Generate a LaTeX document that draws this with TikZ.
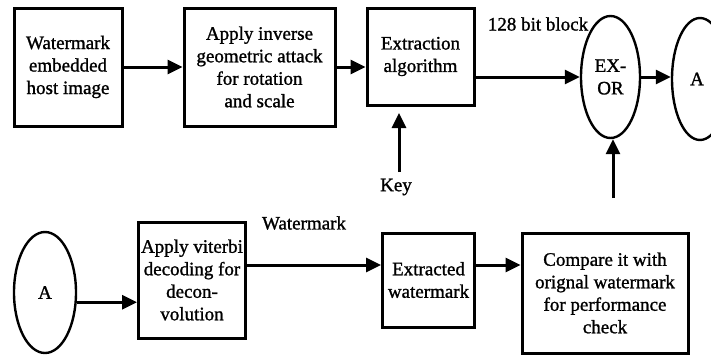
\documentclass[tikz,border=0pt]{standalone}
\usepackage{fontspec}
\setmainfont{Liberation Serif}[FakeBold=1.2]
\usetikzlibrary{arrows.meta,shapes.geometric}

\begin{document}
\begin{tikzpicture}[x=1pt,y=-1pt,
  every node/.style={font=\fontsize{19}{22.5}\selectfont, align=center, inner sep=0pt},
  block/.style={draw, line width=3pt, minimum width=#1},
  oval/.style={draw, ellipse, line width=2.4pt},
  arr/.style={line width=3pt, -{Triangle[length=15pt,width=14pt]}},
  lbl/.style={}]
\useasboundingbox (0,0) rectangle (711,354);
\clip (0,0) rectangle (711,354);

% top row
\node[block=108pt, minimum height=118pt] (host) at (68,67)
  {Watermark\\embedded\\host image};
\node[block=151pt, minimum height=118pt] (inv) at (259.5,67)
  {Apply inverse\\geometric attack\\for rotation\\and scale};
\node[block=107pt, minimum height=97pt] (extr) at (420.5,56.5)
  {Extraction\\algorithm};
\node[oval, minimum width=59pt, minimum height=122pt] (exor) at (610.5,77)
  {EX-\\OR};
\node[oval, minimum width=56pt, minimum height=122pt] (atop) at (700,79) {};
\node at (697,79) {A};

\node[lbl] (blk) at (538,24) {128 bit block};
\node[lbl] (key) at (396,187) {Key};
\coordinate (keytip) at (399,113);
\coordinate (cmpout) at (613,198);

% bottom row
\node[oval, minimum width=62pt, minimum height=121pt] (abot) at (45,292.5) {A};
\node[block=107pt, minimum height=116pt] (vit) at (192,280)
  {Apply viterbi\\decoding for\\decon-\\volution};
\node[lbl] (wm) at (304,223) {Watermark};
\node[block=92pt, minimum height=94pt] (ext) at (428.5,280)
  {Extracted\\watermark};
\node[block=166pt, minimum height=120pt] (cmp) at (605,293)
  {Compare it with\\orignal watermark\\for performance\\check};

% connectors
\draw[arr] (host.east |- inv.west) -- (inv.west);
\draw[arr] (inv.east) -- (inv.east -| extr.west);
\draw[arr] (extr.east |- exor.west) -- (exor.west);
\draw[arr] (exor.east) -- (exor.east -| atop.west);
\draw[arr] (keytip |- 0,172) -- (keytip);
\draw[arr] (cmpout) -- (cmpout |- exor.south);
\draw[arr] (abot.-17) -- (abot.-17 -| vit.west);
\draw[arr] ([yshift=15pt]vit.east) -- ([yshift=15pt]vit.east -| ext.west);
\draw[arr] ([yshift=15pt]ext.east) -- ([yshift=15pt]ext.east -| cmp.west);
\end{tikzpicture}
\end{document}
